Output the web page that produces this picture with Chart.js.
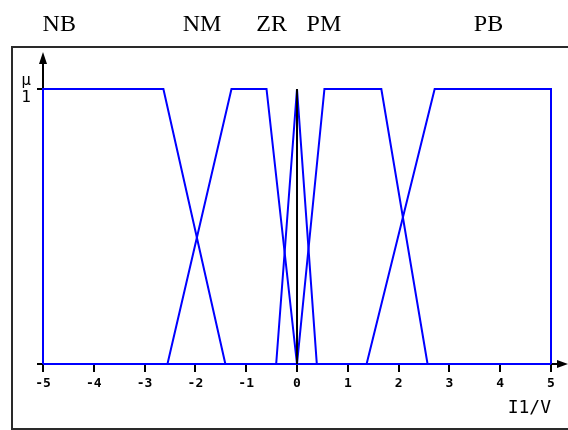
<!DOCTYPE html>
<html>
<head>
<meta charset="utf-8">
<script src="https://cdn.jsdelivr.net/npm/chart.js@4.4.1/dist/chart.umd.min.js"></script>
<style>
html, body { margin: 0; padding: 0; background: #fff; }
#wrap { width: 568px; height: 430px; }
</style>
</head>
<body>
<div id="wrap"><canvas id="fuzzyChart" width="568" height="430"></canvas></div>
<script>
// Fuzzy sets on the universe I1 (V)
const setNames = ['NB', 'NM', 'ZR', 'PM', 'PB'];

const nbX = [-5, -5, -2.63, -1.41, 5];
const nbY = [0, 1, 1, 0, 0];
const nmX = [-5, -2.55, -1.29, -0.6, 0, 5];
const nmY = [0, 0, 1, 1, 0, 0];
const zrX = [-5, -0.41, 0, 0.39, 5];
const zrY = [0, 0, 1, 0, 0];
const pmX = [-5, 0, 0.54, 1.66, 2.57, 5];
const pmY = [0, 0, 1, 1, 0, 0];
const pbX = [-5, 1.37, 2.71, 5, 5];
const pbY = [0, 0, 1, 1, 0];

// where each set name sits above the plot (in volts)
const nameAt = [-4.68, -1.87, -0.5, 0.53, 3.77];

const xTicks = [-5, -4, -3, -2, -1, 0, 1, 2, 3, 4, 5];
const xTickLabels = ['-5', '-4', '-3', '-2', '-1', '0', '1', '2', '3', '4', '5'];
const yTicks = [1];
const yTickLabel = ['\u03bc', '1'];
const xTitle = 'I1/V';

const seriesX = [nbX, nmX, zrX, pmX, pbX];
const seriesY = [nbY, nmY, zrY, pmY, pbY];

function toPoints(xs, ys) {
  return xs.map((x, i) => ({ x: x, y: ys[i] }));
}

const pixelFont = 'DejaVu Sans Mono';

// Frame, axis arrows, zero line and set names
const decorations = {
  id: 'decorations',
  beforeDraw(chart) {
    const ctx = chart.ctx;
    ctx.save();
    ctx.fillStyle = '#fff';
    ctx.fillRect(0, 0, chart.width, chart.height);
    ctx.strokeStyle = '#2a2a2a';
    ctx.lineWidth = 2;
    ctx.strokeRect(12, 47, chart.width, chart.height - 48);
    ctx.restore();
  },
  afterDatasetsDraw(chart) {
    const ctx = chart.ctx;
    const xs = chart.scales.x;
    const ys = chart.scales.y;
    const area = chart.chartArea;
    ctx.save();
    ctx.strokeStyle = '#000';
    ctx.fillStyle = '#000';
    ctx.lineWidth = 2;

    // x axis: small stub on the left, line and arrow on the right
    ctx.beginPath();
    ctx.moveTo(area.left - 6, area.bottom);
    ctx.lineTo(area.left - 1, area.bottom);
    ctx.moveTo(area.right + 1, area.bottom);
    ctx.lineTo(area.right + 10, area.bottom);
    ctx.stroke();
    ctx.beginPath();
    ctx.moveTo(area.right + 17, area.bottom);
    ctx.lineTo(area.right + 6, area.bottom - 4);
    ctx.lineTo(area.right + 6, area.bottom + 4);
    ctx.closePath();
    ctx.fill();

    // y axis arrow above mu = 1
    ctx.beginPath();
    ctx.moveTo(area.left, area.top - 1);
    ctx.lineTo(area.left, area.top - 28);
    ctx.stroke();
    ctx.beginPath();
    ctx.moveTo(area.left, area.top - 37);
    ctx.lineTo(area.left - 4, area.top - 25);
    ctx.lineTo(area.left + 4, area.top - 25);
    ctx.closePath();
    ctx.fill();

    // vertical line at zero
    const x0 = Math.round(xs.getPixelForValue(0));
    ctx.beginPath();
    ctx.moveTo(x0, ys.getPixelForValue(1));
    ctx.lineTo(x0, area.bottom);
    ctx.stroke();

    // set names
    ctx.font = '24px "Liberation Serif", "Times New Roman", serif';
    ctx.textAlign = 'center';
    ctx.textBaseline = 'alphabetic';
    setNames.forEach((name, i) => {
      ctx.fillText(name, xs.getPixelForValue(nameAt[i]), 31);
    });
    ctx.restore();
  }
};

const ctx = document.getElementById('fuzzyChart').getContext('2d');

new Chart(ctx, {
  type: 'scatter',
  data: {
    datasets: setNames.map((name, i) => ({
      label: name,
      data: toPoints(seriesX[i], seriesY[i]),
      showLine: true,
      borderColor: '#0000ff',
      backgroundColor: '#0000ff',
      borderWidth: 2,
      pointRadius: 0,
      tension: 0,
      clip: false
    }))
  },
  options: {
    responsive: false,
    animation: false,
    layout: { padding: { top: 89, right: 17, bottom: 0, left: 0 } },
    plugins: {
      legend: { display: false },
      tooltip: { enabled: false },
      title: { display: false }
    },
    scales: {
      x: {
        type: 'linear',
        position: 'bottom',
        min: -5,
        max: 5,
        border: { display: true, color: '#000', width: 2 },
        grid: { drawOnChartArea: false, drawTicks: true, tickLength: 8, color: '#000', lineWidth: 2 },
        ticks: {
          padding: 4,
          color: '#000',
          font: { family: pixelFont, size: 13, weight: 'bold' },
          maxRotation: 0,
          autoSkip: false,
          callback: (v, i) => xTickLabels[i]
        },
        afterBuildTicks: s => { s.ticks = xTicks.map(v => ({ value: v })); },
        afterFit: s => { s.height = 66; },
        title: {
          display: true,
          text: xTitle,
          align: 'end',
          color: '#000',
          font: { family: pixelFont, size: 18 },
          padding: { top: 0, bottom: 11 }
        }
      },
      y: {
        type: 'linear',
        min: 0,
        max: 1,
        border: { display: true, color: '#000', width: 2 },
        grid: { drawOnChartArea: false, drawTicks: true, tickLength: 6, color: '#000', lineWidth: 2 },
        ticks: {
          padding: 6,
          color: '#000',
          font: { family: pixelFont, size: 16, lineHeight: 1.05 },
          callback: v => (v === 1 ? yTickLabel : '')
        },
        afterBuildTicks: s => { s.ticks = yTicks.map(v => ({ value: v })); },
        afterFit: s => { s.width = 43; }
      }
    }
  },
  plugins: [decorations]
});
</script>
</body>
</html>
